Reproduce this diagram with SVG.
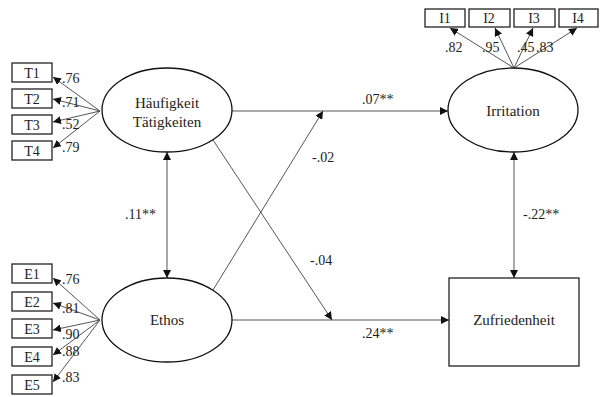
<svg xmlns="http://www.w3.org/2000/svg" width="600" height="397" viewBox="0 0 600 397">
<style>
text{font-family:"Liberation Serif","Times New Roman",serif;fill:#222}
.n{font-size:15px;text-anchor:middle}
.b{font-size:14px;text-anchor:middle}
.l{font-size:14px}
.e{fill:#fff;stroke:#111;stroke-width:1.3}
.r{fill:#fff;stroke:#222;stroke-width:1.3}
.c{stroke:#555;stroke-width:1;fill:none;marker-end:url(#a)}
.d{stroke:#555;stroke-width:1;fill:none;marker-end:url(#a);marker-start:url(#s)}
</style>
<defs>
<marker id="a" viewBox="0 0 10 10" refX="10" refY="5" markerWidth="8" markerHeight="8" markerUnits="userSpaceOnUse" orient="auto"><path d="M0,0L10,5L0,10z" fill="#111"/></marker>
<marker id="s" viewBox="0 0 10 10" refX="0" refY="5" markerWidth="8" markerHeight="8" markerUnits="userSpaceOnUse" orient="auto"><path d="M10,0L0,5L10,10z" fill="#111"/></marker>
</defs>
<g id="connectors">
<line class="c" x1="100" y1="111" x2="53" y2="77"/>
<line class="c" x1="100" y1="111" x2="53" y2="99"/>
<line class="c" x1="100" y1="111" x2="53" y2="122"/>
<line class="c" x1="100" y1="111" x2="53" y2="148"/>
<line class="c" x1="100" y1="320" x2="53" y2="278"/>
<line class="c" x1="100" y1="320" x2="53" y2="303"/>
<line class="c" x1="100" y1="320" x2="53" y2="330"/>
<line class="c" x1="100" y1="320" x2="53" y2="355"/>
<line class="c" x1="100" y1="320" x2="53" y2="382"/>
<line class="c" x1="514" y1="68" x2="450" y2="28"/>
<line class="c" x1="514" y1="68" x2="495" y2="28"/>
<line class="c" x1="514" y1="68" x2="533" y2="28"/>
<line class="c" x1="514" y1="68" x2="577" y2="28"/>
<line class="c" x1="232" y1="111" x2="448" y2="111"/>
<line class="c" x1="232" y1="320" x2="449" y2="320"/>
<line class="c" x1="213" y1="140" x2="332" y2="320"/>
<line class="c" x1="213" y1="290" x2="323" y2="111"/>
<line class="d" x1="167" y1="152" x2="167" y2="278"/>
<line class="d" x1="514" y1="152" x2="514" y2="278"/>
</g>
<g id="T1"><rect class="r" x="12" y="63" width="40" height="19"/><text class="b" x="32" y="78">T1</text></g>
<g id="T2"><rect class="r" x="12" y="89" width="40" height="19"/><text class="b" x="32" y="104">T2</text></g>
<g id="T3"><rect class="r" x="12" y="115" width="40" height="19"/><text class="b" x="32" y="130">T3</text></g>
<g id="T4"><rect class="r" x="12" y="141" width="40" height="19"/><text class="b" x="32" y="156">T4</text></g>
<g id="E1"><rect class="r" x="12" y="264" width="40" height="19"/><text class="b" x="32" y="279">E1</text></g>
<g id="E2"><rect class="r" x="12" y="292" width="40" height="19"/><text class="b" x="32" y="307">E2</text></g>
<g id="E3"><rect class="r" x="12" y="319" width="40" height="19"/><text class="b" x="32" y="334">E3</text></g>
<g id="E4"><rect class="r" x="12" y="347" width="40" height="19"/><text class="b" x="32" y="362">E4</text></g>
<g id="E5"><rect class="r" x="12" y="375" width="40" height="19"/><text class="b" x="32" y="390">E5</text></g>
<g id="I1"><rect class="r" x="425" y="9" width="40" height="18"/><text class="b" x="445" y="23">I1</text></g>
<g id="I2"><rect class="r" x="469" y="9" width="41" height="18"/><text class="b" x="489" y="23">I2</text></g>
<g id="I3"><rect class="r" x="514" y="9" width="41" height="18"/><text class="b" x="534" y="23">I3</text></g>
<g id="I4"><rect class="r" x="559" y="9" width="39" height="18"/><text class="b" x="578" y="23">I4</text></g>
<g id="haeufigkeit"><ellipse class="e" cx="167" cy="110" rx="65" ry="42"/><text class="n" x="167" y="108">Häufigkeit</text><text class="n" x="167" y="127">Tätigkeiten</text></g>
<g id="ethos"><ellipse class="e" cx="167" cy="320" rx="65" ry="42"/><text class="n" x="167" y="325">Ethos</text></g>
<g id="irritation"><ellipse class="e" cx="513" cy="110" rx="65" ry="42"/><text class="n" x="513" y="116">Irritation</text></g>
<g id="zufriedenheit"><rect class="r" x="449" y="278" width="130" height="88"/><text class="n" x="514" y="325">Zufriedenheit</text></g>
<g id="labels">
<text class="l" x="62" y="83">.76</text>
<text class="l" x="62" y="107">.71</text>
<text class="l" x="62" y="129">.52</text>
<text class="l" x="62" y="152">.79</text>
<text class="l" x="62" y="284">.76</text>
<text class="l" x="62" y="313">.81</text>
<text class="l" x="62" y="339">.90</text>
<text class="l" x="62" y="356">.88</text>
<text class="l" x="62" y="382">.83</text>
<text class="l" x="445" y="52">.82</text>
<text class="l" x="482" y="52">.95</text>
<text class="l" x="517" y="52">.45</text>
<text class="l" x="536" y="52">.83</text>
<text class="l" x="362" y="104">.07**</text>
<text class="l" x="312" y="162">-.02</text>
<text class="l" x="310" y="265">-.04</text>
<text class="l" x="362" y="338">.24**</text>
<text class="l" x="125" y="219">.11**</text>
<text class="l" x="523" y="219">-.22**</text>
</g>
</svg>
